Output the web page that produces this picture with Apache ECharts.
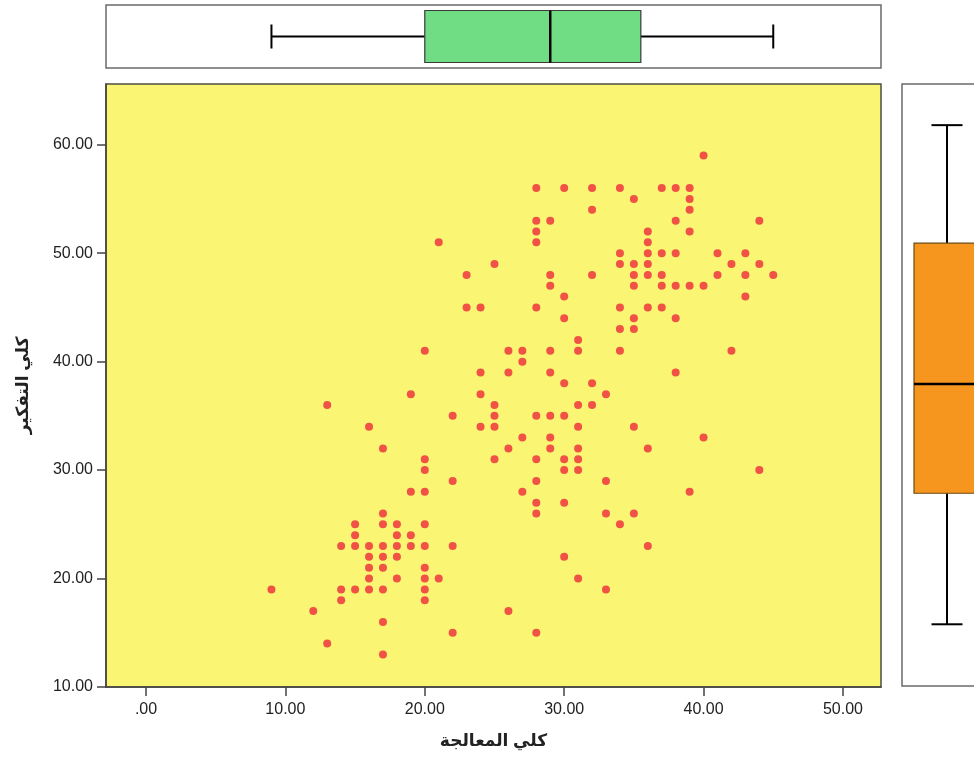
<!DOCTYPE html>
<html><head><meta charset="utf-8">
<script src="https://cdn.jsdelivr.net/npm/echarts@6/dist/echarts.min.js"></script>
<style>html,body{margin:0;padding:0;overflow:hidden;background:#fff}#c{width:1000px;height:762px}</style>
</head><body><div id="c"></div>
<script>
const xTitle = 'كلي المعالجة';
const yTitle = 'كلي التفكير';
const xTicks = [0, 10, 20, 30, 40, 50];
const yTicks = [10, 20, 30, 40, 50, 60];
// thinking score levels (y) and the processing scores (x) observed at each level
const yLevels = [59,56,55,54,53,52,51,50,49,48,47,46,45,44,43,42,41,40,39,38,37,36,35,34,33,32,31,30,29,28,27,26,25,24,23,22,21,20,19,18,17,16,15,14,13];
const xByLevel = [
  [40],
  [28,30,32,34,37,38,39],
  [35,39],
  [32,39],
  [28,29,38,44],
  [28,36,39],
  [21,28,36],
  [34,36,37,38,41,43],
  [25,34,35,36,42,44],
  [23,29,32,35,36,37,41,43,45],
  [29,35,37,38,39,40],
  [30,43],
  [23,24,28,34,36,37],
  [30,35,38],
  [34,35],
  [31],
  [20,26,27,29,31,34,42],
  [27],
  [24,26,29,38],
  [30,32],
  [19,24,33],
  [13,25,31,32],
  [22,25,28,29,30],
  [16,24,25,31,35],
  [27,29,40],
  [17,26,29,31,36],
  [20,25,28,30,31],
  [20,30,31,44],
  [22,28,33],
  [19,20,27,39],
  [28,30],
  [17,28,33,35],
  [15,17,18,20,34],
  [15,18,19],
  [14,15,16,17,18,19,20,22,36],
  [16,17,18,30],
  [16,17,20],
  [16,18,20,21,31],
  [9,14,15,16,17,20,33],
  [14,20],
  [12,26],
  [17],
  [22,28],
  [13],
  [17]
];
// box statistics: [min, Q1, median, Q3, max]
const processingBox = [9, 20, 29, 35.5, 45];
const thinkingBox = [15.7, 27.8, 37.9, 50.9, 61.8];

const points = [];
yLevels.forEach((y, i) => xByLevel[i].forEach(x => points.push([x, y])));

const FONT = "'Liberation Sans', Arial, 'DejaVu Sans', sans-serif";
const XMIN = -2.87, XMAX = 52.73, YMIN = 10, YMAX = 65.6;

function boxGroup(api, horizontal, boxHalf, capHalf, fill, edge) {
  const v = [0,1,2,3,4].map(k => api.value(k));
  const P = val => horizontal ? api.coord([val, 0.5]) : api.coord([0.5, val]);
  const p = v.map(P);
  const line = (x1,y1,x2,y2,w) => ({type:'line', shape:{x1,y1,x2,y2}, style:{stroke:'#000', lineWidth:w}});
  const ch = [];
  if (horizontal) {
    const c = p[0][1];
    ch.push(line(p[0][0], c, p[1][0], c, 2));
    ch.push(line(p[3][0], c, p[4][0], c, 2));
    ch.push(line(p[0][0], c-capHalf, p[0][0], c+capHalf, 2));
    ch.push(line(p[4][0], c-capHalf, p[4][0], c+capHalf, 2));
    ch.push({type:'rect', shape:{x:p[1][0], y:c-boxHalf, width:p[3][0]-p[1][0], height:2*boxHalf}, style:{fill:fill, stroke:edge, lineWidth:1.2}});
    ch.push(line(p[2][0], c-boxHalf, p[2][0], c+boxHalf, 2.5));
  } else {
    const c = p[0][0];
    ch.push(line(c, p[0][1], c, p[1][1], 2));
    ch.push(line(c, p[3][1], c, p[4][1], 2));
    ch.push(line(c-capHalf, p[0][1], c+capHalf, p[0][1], 2));
    ch.push(line(c-capHalf, p[4][1], c+capHalf, p[4][1], 2));
    ch.push({type:'rect', shape:{x:c-boxHalf, y:p[3][1], width:2*boxHalf, height:p[1][1]-p[3][1]}, style:{fill:fill, stroke:edge, lineWidth:1.2}});
    ch.push(line(c-boxHalf, p[2][1], c+boxHalf, p[2][1], 2.5));
  }
  return {type:'group', children:ch};
}

const chart = echarts.init(document.getElementById('c'), null, {renderer:'canvas'});
chart.setOption({
  animation: false,
  backgroundColor: '#fff',
  grid: [
    {left:106, top:84, width:775, height:603, show:true, backgroundColor:'#faf674', borderColor:'#4d4d40', borderWidth:1.5},
    {left:106, top:5, width:775, height:63, show:true, backgroundColor:'#fff', borderColor:'#6a6a6a', borderWidth:1.5},
    {left:902, top:84, width:90, height:602, show:true, backgroundColor:'#fff', borderColor:'#6a6a6a', borderWidth:1.5}
  ],
  xAxis: [
    {gridIndex:0, type:'value', min:XMIN, max:XMAX,
     axisLine:{show:true, onZero:false, lineStyle:{color:'#444', width:1.5}},
     axisTick:{show:true, customValues:xTicks, length:9, lineStyle:{color:'#444', width:1.5}},
     axisLabel:{customValues:xTicks, formatter:v => v === 0 ? '.00' : v.toFixed(2), color:'#222', fontSize:16, fontFamily:FONT, margin:15},
     splitLine:{show:false},
     name:xTitle, nameLocation:'middle', nameGap:46,
     nameTextStyle:{fontSize:17, fontWeight:'bold', color:'#222', fontFamily:FONT}},
    {gridIndex:1, type:'value', min:XMIN, max:XMAX, show:false},
    {gridIndex:2, type:'value', min:0, max:1, show:false}
  ],
  yAxis: [
    {gridIndex:0, type:'value', min:YMIN, max:YMAX,
     axisLine:{show:true, onZero:false, lineStyle:{color:'#444', width:1.5}},
     axisTick:{show:true, customValues:yTicks, length:9, lineStyle:{color:'#444', width:1.5}},
     axisLabel:{customValues:yTicks, formatter:v => v.toFixed(2), color:'#222', fontSize:16, fontFamily:FONT, margin:13},
     splitLine:{show:false},
     name:yTitle, nameLocation:'middle', nameGap:74, nameRotate:90,
     nameTextStyle:{fontSize:17, fontWeight:'bold', color:'#222', fontFamily:FONT}},
    {gridIndex:1, type:'value', min:0, max:1, show:false},
    {gridIndex:2, type:'value', min:YMIN, max:YMAX, show:false}
  ],
  series: [
    {type:'scatter', xAxisIndex:0, yAxisIndex:0, data:points, symbol:'circle', symbolSize:8,
     itemStyle:{color:'#ee2a3a'}},
    {type:'custom', xAxisIndex:1, yAxisIndex:1, data:[processingBox], clip:false,
     renderItem:(params, api) => boxGroup(api, true, 26, 12, '#70dc83', '#3a3a3a')},
    {type:'custom', xAxisIndex:2, yAxisIndex:2, data:[thinkingBox], clip:false,
     renderItem:(params, api) => boxGroup(api, false, 33, 15.5, '#f7961f', '#6b4a10')}
  ]
});
</script></body></html>
